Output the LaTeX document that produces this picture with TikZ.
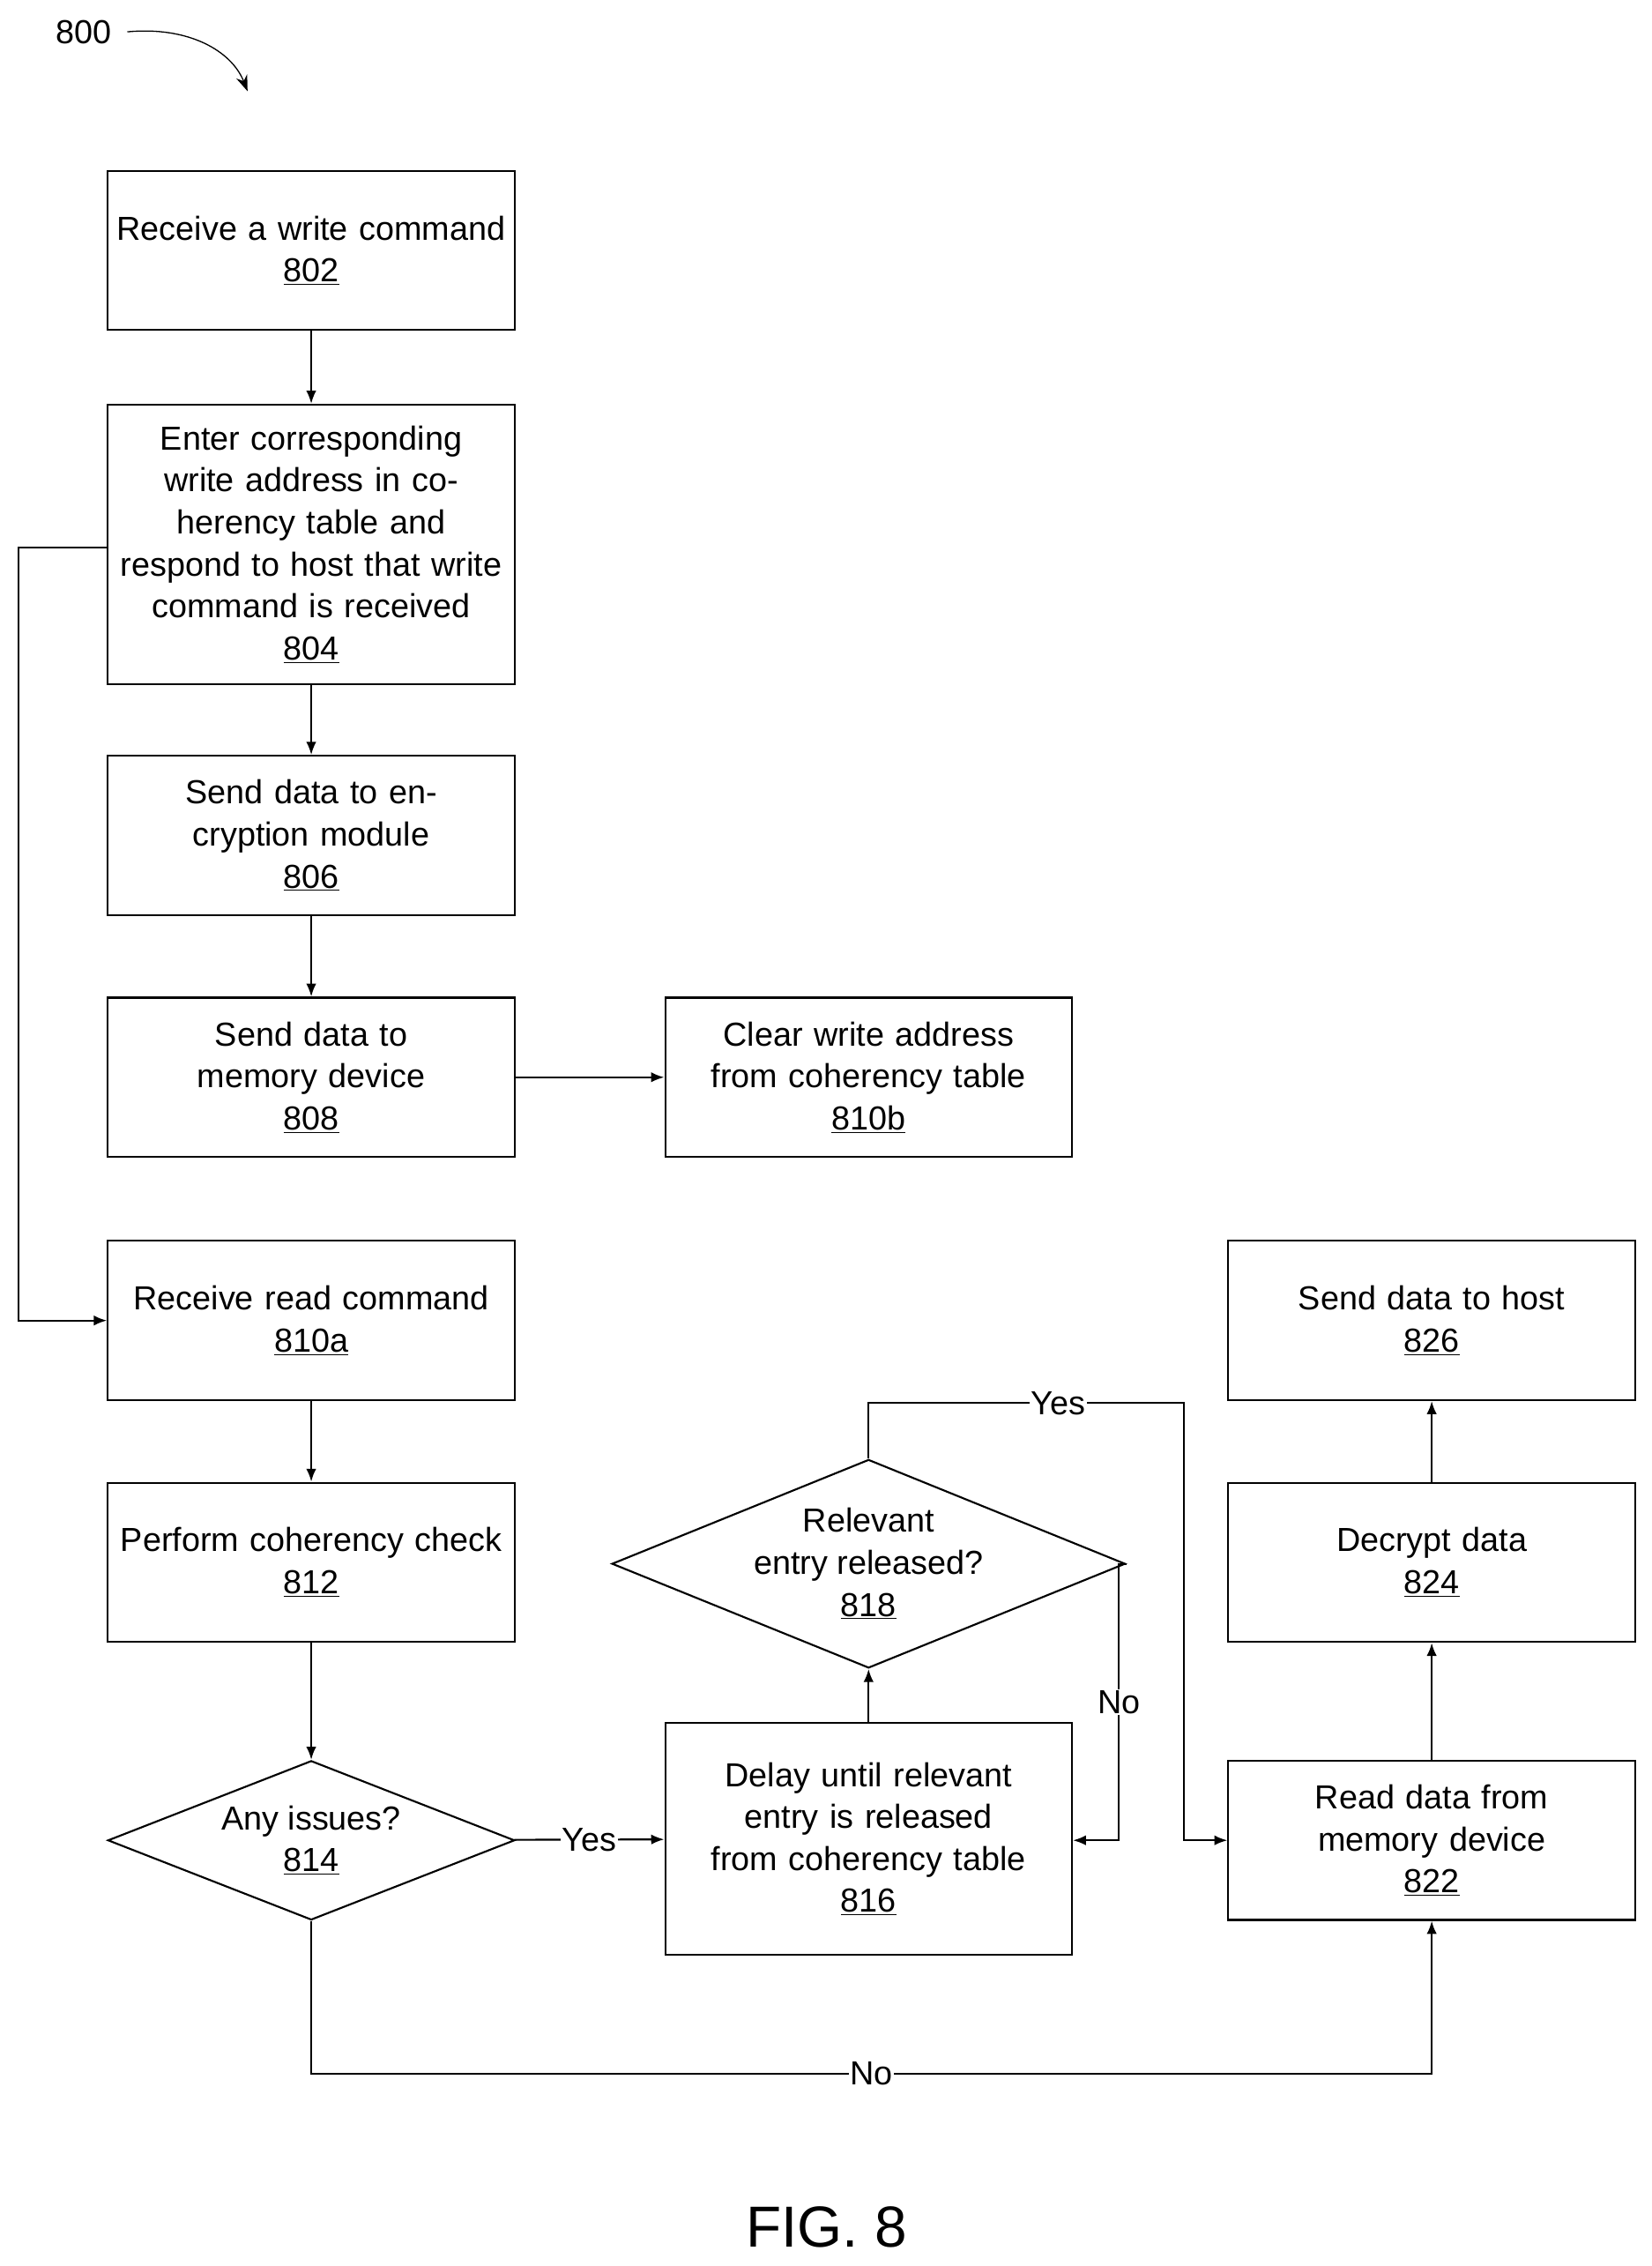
\documentclass[tikz,border=0pt]{standalone}
\usepackage{fontspec}
\setmainfont{Liberation Sans}[Scale=1]
\usetikzlibrary{shapes.geometric,arrows.meta}
\begin{document}
\begin{tikzpicture}[x=1pt,y=-1pt,
  every node/.style={font=\fontsize{23}{29}\selectfont},
  box/.style={draw,line width=1.3pt,minimum width=281,minimum height=110,align=center,inner sep=2pt,text width=275},
  dia/.style={draw,line width=1.3pt,diamond,aspect=2.55,minimum width=281,minimum height=110,align=center,inner sep=0pt},
  ln/.style={line width=1.3pt},
  ar/.style={ln,-{Latex[length=9pt,width=7pt]}},
  lab/.style={fill=white,inner sep=1pt}]
\useasboundingbox (0,0) rectangle (1141,1565);
\node[box] (b802) at (215,173) {Receive a write command\\\underline{802}};
\node[box,minimum height=193] (b804) at (215,376) {Enter corresponding write address in coherency table and respond to host that write command is received\\\underline{804}};
\node[box] (b806) at (215,577) {Send data to encryption module\\\underline{806}};
\node[box] (b808) at (215,744) {Send data to memory device\\\underline{808}};
\node[box] (b810b) at (600,744) {Clear write address from coherency table\\\underline{810b}};
\node[box] (b810a) at (215,912) {Receive read command\\\underline{810a}};
\node[box] (b812) at (215,1079) {Perform coherency check\\\underline{812}};
\node[dia] (d814) at (215,1271) {Any issues?\\\underline{814}};
\node[box,minimum height=160] (b816) at (600,1270) {Delay until relevant entry is released from coherency table\\\underline{816}};
\node[dia,minimum height=144] (d818) at (600,1080) {Relevant\\entry released?\\\underline{818}};
\node[box] (b822) at (989,1271) {Read data from memory device\\\underline{822}};
\node[box] (b824) at (989,1079) {Decrypt data\\\underline{824}};
\node[box] (b826) at (989,912) {Send data to host\\\underline{826}};
\draw[ar] (b802) -- (b804);
\draw[ar] (b804) -- (b806);
\draw[ar] (b806) -- (b808);
\draw[ar] (b808) -- (b810b);
\draw[ar] (b810a) -- (b812);
\draw[ar] (b812) -- (d814);
\draw[ar] (d814) -- node[lab]{Yes} (b816);
\draw[ar] (b816) -- (d818);
\draw[ar] (b822) -- (b824);
\draw[ar] (b824) -- (b826);
\coordinate (c1) at (13,378);
\draw[ar] (b804.west |- c1) -- (c1) |- (b810a.west);
\draw[ar] (d818.north) -- (600,969) -- node[lab,pos=0.6]{Yes} (818,969) |- (b822.west);
\draw[ar] (d818.east) -- (773,1080) -- node[lab,pos=0.5]{No} (773,1271) -- (b816.east |- 0,1271);
\draw[ar] (d814.south) |- node[lab,pos=0.75]{No} (989,1432) -- (b822.south);
\node (t800) at (58,22) {800};
\draw[-{Stealth[length=11pt,width=8pt]},line width=0.8pt] (88,22) .. controls (130,18) and (160,35) .. (171,63);
\node[font=\fontsize{40}{48}\selectfont] (fig) at (571,1538) {FIG. 8};
\end{tikzpicture}
\end{document}
